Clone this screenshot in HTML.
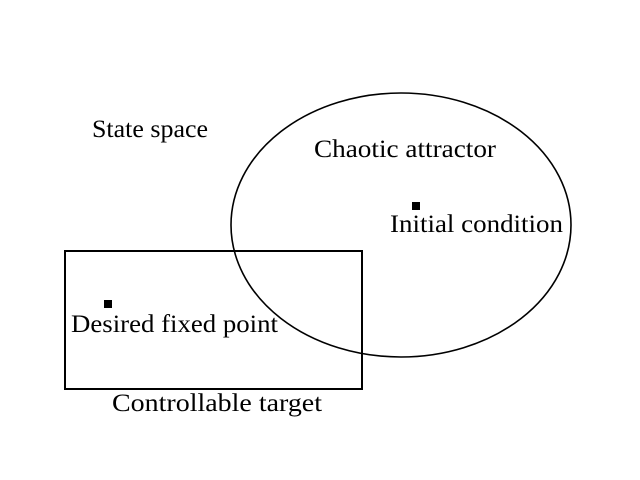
<!DOCTYPE html>
<html>
<head>
<meta charset="utf-8">
<style>
  html, body { margin: 0; padding: 0; background: #fff; }
  svg { display: block; }
  text { font-family: "Liberation Serif", "DejaVu Serif", serif; fill: #000; }
</style>
</head>
<body>
<svg width="640" height="480" viewBox="0 0 640 480" xmlns="http://www.w3.org/2000/svg">
  <rect x="0" y="0" width="640" height="480" fill="#fff"/>
  <ellipse cx="401" cy="225" rx="170" ry="132" fill="none" stroke="#000" stroke-width="1.6"/>
  <rect x="65" y="251" width="297" height="138" fill="none" stroke="#000" stroke-width="2"/>
  <rect x="412" y="202" width="8" height="8" fill="#000"/>
  <rect x="104" y="300" width="8" height="8" fill="#000"/>
  <text x="92" y="137" font-size="25" textLength="116" lengthAdjust="spacingAndGlyphs">State space</text>
  <text x="314" y="157" font-size="25" textLength="182" lengthAdjust="spacingAndGlyphs">Chaotic attractor</text>
  <text x="390" y="232" font-size="25" textLength="173" lengthAdjust="spacingAndGlyphs">Initial condition</text>
  <text x="71" y="332" font-size="25" textLength="207" lengthAdjust="spacingAndGlyphs">Desired fixed point</text>
  <text x="112" y="411" font-size="25" textLength="210" lengthAdjust="spacingAndGlyphs">Controllable target</text>
</svg>
</body>
</html>
